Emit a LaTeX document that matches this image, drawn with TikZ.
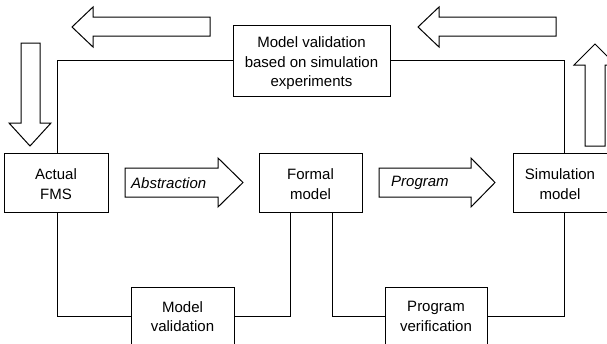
\documentclass[tikz,border=0pt]{standalone}
\usepackage{fontspec}
\setmainfont{Liberation Sans}
\begin{document}
\begin{tikzpicture}[x=1pt,y=-1pt,
  box/.style={draw,line width=1pt,fill=white,inner sep=0pt},
  txt/.style={align=center,inner sep=0pt,font=\fontsize{15}{19.5}\selectfont},
  conn/.style={line width=1pt},
  blockarrow/.style={draw,line width=1pt,line join=miter},
  lbl/.style={font=\fontsize{15}{18}\selectfont\itshape,inner sep=0pt}]
\clip (0,0) rectangle (607,343);
% boxes
\node[box,minimum width=157pt,minimum height=71pt] (top) at (311.5,60.5) {};
\node[txt] (toptext) at ([yshift=-3pt]top.center) {Model validation\\based on simulation\\experiments};
\node[box,minimum width=104pt,minimum height=59pt] (actual) at (56,182.5) {};
\node[txt] (actualtext) at ([yshift=-1.5pt]actual.center) {Actual\\FMS};
\node[box,minimum width=103pt,minimum height=59pt] (formal) at (310.5,182.5) {};
\node[txt] (formaltext) at ([yshift=-1.5pt]formal.center) {Formal\\model};
\node[box,minimum width=104pt,minimum height=59pt] (sim) at (565,182.5) {};
\node[txt] (simtext) at ([xshift=-5pt,yshift=-1.5pt]sim.center) {Simulation\\model};
\node[box,minimum width=103pt,minimum height=59pt] (mval) at (182.5,316.5) {};
\node[txt] (mvaltext) at (mval.center) {Model\\validation};
\node[box,minimum width=102pt,minimum height=59pt] (pver) at (436,316.5) {};
\node[txt] (pvertext) at (pver.center) {Program\\verification};
% connectors
\draw[conn] (top.west) -| ([xshift=1pt]actual.north);
\draw[conn] (top.east) -| ([xshift=-1pt]sim.north);
\draw[conn] ([xshift=1pt]actual.south) |- (mval.west);
\draw[conn] (mval.east) -| ([xshift=-20.5pt]formal.south);
\draw[conn] ([xshift=21.5pt]formal.south) |- (pver.west);
\draw[conn] (pver.east) -| ([xshift=-1pt]sim.south);
% block arrows
\draw[blockarrow] (125,168) -- (218,168) -- (218,158) -- (243,182.5) -- (218,207) -- (218,197) -- (125,197) -- cycle;
\node[lbl,anchor=west] (abs) at (131,183) {Abstraction};
\draw[blockarrow] (379,168) -- (471,168) -- (471,158) -- (495,182.5) -- (471,207) -- (471,197) -- (379,197) -- cycle;
\node[lbl,anchor=west] (prog) at (391,183) {Program};
\draw[blockarrow] (210,17) -- (93,17) -- (93,7) -- (72,27) -- (93,47) -- (93,36) -- (210,36) -- cycle;
\draw[blockarrow] (556,17) -- (439,17) -- (439,7) -- (418,27) -- (439,47) -- (439,36) -- (556,36) -- cycle;
\draw[blockarrow] (21,43) -- (21,123) -- (9,123) -- (30,146) -- (51,123) -- (40,123) -- (40,43) -- cycle;
\draw[blockarrow] (585,146) -- (585,65) -- (574,65) -- (595,44) -- (616,65) -- (605,65) -- (605,146) -- cycle;
\end{tikzpicture}
\end{document}
